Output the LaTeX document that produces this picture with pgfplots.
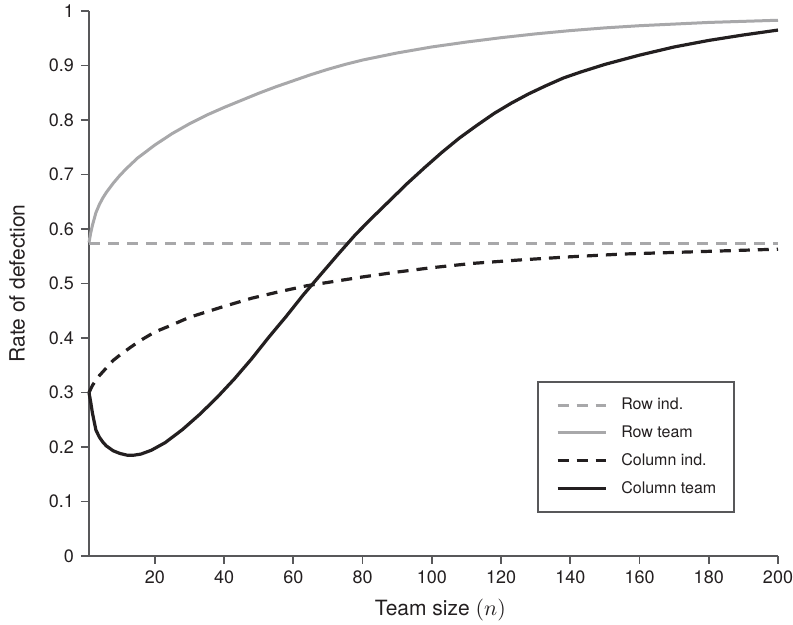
\documentclass[border=0pt]{standalone}
\usepackage{pgfplots}
\pgfplotsset{compat=1.18}
\usepackage{fontspec}
\setmainfont{TeX Gyre Heros}
\definecolor{rowgray}{HTML}{A8A8AA}
\definecolor{colblack}{HTML}{231F20}
\definecolor{axisgray}{HTML}{58585A}

\begin{document}
\begin{tikzpicture}
\begin{axis}[
    scale only axis,
    width=344.5pt, height=272.5pt,
    xmin=1, xmax=200, ymin=0, ymax=1,
    axis lines*=left,
    axis line style={axisgray, line width=0.8pt},
    tick style={axisgray, line width=0.8pt},
    tick align=outside,
    major tick length=4pt,
    xtick={20,40,...,200},
    ytick={0,0.1,0.2,0.3,0.4,0.5,0.6,0.7,0.8,0.9,1},
    ticklabel style={font=\fontsize{9}{10}\selectfont, text=colblack},
    /pgf/number format/assume math mode=true,
    xlabel={Team size $(n)$},
    ylabel={Rate of defection},
    label style={font=\fontsize{10.5}{12}\selectfont, text=colblack},
    xlabel style={at={(axis description cs:0.51,-0.099)}, anchor=center},
    ylabel style={at={(axis description cs:-0.1045,0.5)}, anchor=center},
    clip=false,
    legend cell align=left,
    legend image code/.code={\draw[#1] (0pt,0pt) -- (24pt,0pt);},
    legend style={at={(0.9376,0.321)}, anchor=north east,
        draw=axisgray, line width=0.8pt,
        inner xsep=9pt, inner ysep=8pt, row sep=6.5pt,
        font=\fontsize{8}{9}\selectfont, text=colblack,
        nodes={inner sep=0pt},
        /tikz/every odd column/.append style={column sep=7pt}},
]
% Row ind.
\addplot[rowgray, line width=1.5pt, dash pattern=on 5.5pt off 4pt]
    coordinates {(1,0.574) (200,0.574)};
% Row team
\addplot[rowgray, line width=1.5pt]
    coordinates {
    (1,0.575) (1.5,0.593) (2,0.607) (3,0.630) (4,0.645) (5,0.657)
    (6,0.667) (8,0.684) (10,0.699) (12,0.712) (15,0.730) (20,0.754)
    (25,0.775) (30,0.793) (35,0.809) (40,0.823) (45,0.836) (50,0.849)
    (55,0.861) (60,0.872) (65,0.883) (70,0.893) (75,0.902) (80,0.910)
    (90,0.923) (100,0.934) (110,0.943) (120,0.951) (130,0.958)
    (140,0.964) (150,0.969) (160,0.973) (170,0.976) (180,0.979)
    (190,0.981) (200,0.983)};
% Column ind.
\addplot[colblack, line width=1.6pt, dash pattern=on 5.5pt off 4pt]
    coordinates {
    (1,0.300) (2,0.313) (3,0.323) (4,0.331) (6,0.345) (8,0.359)
    (10,0.369) (13,0.383) (16,0.396) (20,0.411) (25,0.424) (30,0.438)
    (35,0.448) (40,0.458) (48,0.473) (56,0.485) (64,0.496) (72,0.504)
    (80,0.512) (90,0.521) (100,0.529) (112,0.537) (125,0.543)
    (140,0.549) (155,0.554) (170,0.557) (185,0.560) (200,0.563)};
% Column team
\addplot[colblack, line width=1.6pt]
    coordinates {
    (1,0.300) (1.5,0.282) (2,0.262) (3,0.231) (4,0.218) (5,0.209)
    (6,0.202) (8,0.193) (10,0.188) (12,0.185) (14,0.185) (16,0.187)
    (19,0.194) (23,0.208) (28,0.232) (33,0.260) (38,0.291) (43,0.325)
    (48,0.362) (53,0.402) (58,0.440) (63,0.480) (68,0.517) (73,0.554)
    (78,0.590) (83,0.622) (88,0.653) (93,0.684) (98,0.713) (103,0.741)
    (108,0.767) (113,0.790) (118,0.812) (123,0.831) (128,0.848)
    (133,0.863) (138,0.877) (143,0.888) (150,0.902) (160,0.919)
    (170,0.934) (180,0.946) (190,0.956) (200,0.965)};
\legend{Row ind., Row team, Column ind., Column team}
\end{axis}
\pgfresetboundingbox
\path ([xshift=-44.5pt,yshift=-34.5pt]current axis.south west)
    rectangle ([xshift=7.5pt,yshift=5.5pt]current axis.north east);
\end{tikzpicture}
\end{document}
